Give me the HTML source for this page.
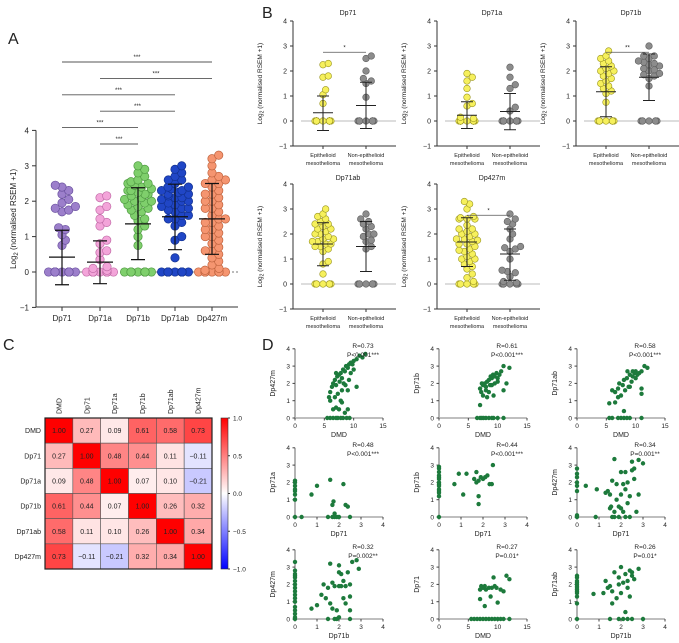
<!DOCTYPE html>
<html><head><meta charset="utf-8"><style>
html,body{margin:0;padding:0;background:#fff;}
svg{display:block;font-family:"Liberation Sans",sans-serif;}
</style></head><body>
<svg id="fig" width="679" height="643" viewBox="0 0 679 643"></svg>
<script>
// ---------- Panel A data ----------
const aCats=['Dp71','Dp71a','Dp71b','Dp71ab','Dp427m'];
const aDp71=[0,0,0,0,0,0,0,0,0,0,0,0,0,0,0,0,0,0,0,0,0,0,0,0,0,0,0,0,0.75,0.9,1.05,1.2,1.25,1.7,1.75,1.8,1.85,1.95,2.05,2.2,2.3,2.4,2.45];
const aDp71a=[0,0,0,0,0,0,0,0,0,0,0,0,0,0,0,0,0,0,0,0,0,0,0,0.05,0.1,0.15,0.35,0.55,0.6,0.8,0.9,1.3,1.4,1.5,1.75,1.85,2.1,2.15];
const aDp71b=[0,0,0,0,0,0,0,0,0,0,0,0,0.75,1.0,1.2,1.3,1.45,1.5,1.6,1.7,1.8,1.85,1.9,2.0,2.05,2.1,2.15,2.2,2.25,2.3,2.35,2.4,2.45,2.5,2.55,2.6,2.7,2.8,2.9,3.0,1.95,2.2,2.3,2.5,1.75,2.0];
const aDp71ab=[0,0,0,0,0,0,0,0,0,0,0,0,0,0,0,0.4,0.9,1.0,1.3,1.4,1.5,1.6,1.7,1.75,1.8,1.9,1.95,2.0,2.05,2.1,2.15,2.2,2.25,2.3,2.35,2.4,2.5,2.6,2.7,2.8,2.9,3.0,1.85,2.0,2.1,2.2,2.3,1.6,1.5,1.8,2.4,2.6];
const aDp427m=[0,0,0,0,0,0,0,0,0,0,0.05,0.1,0.2,0.3,0.5,0.6,0.7,0.8,0.9,1.0,1.1,1.2,1.3,1.4,1.5,1.6,1.7,1.8,1.9,2.0,2.1,2.2,2.3,2.4,2.5,2.6,2.7,2.8,3.0,3.2,3.3,1.0,1.5,2.0,2.5,0.4,1.2,1.8,2.2,2.6,0.6,1.4];
const aMeans=[0.42,0.28,1.36,1.56,1.5];
const aSdHi=[1.18,0.88,2.38,2.48,2.5];
const aSdLo=[-0.36,-0.33,0.35,0.63,0.5];
const aSig=[[0,4],[1,4],[0,3],[1,3],[0,2],[1,2]];
const aSigLabels=['***','***','***','***','***','***'];

// ---------- Panel B data ----------
const bTitles=['Dp71','Dp71a','Dp71b','Dp71ab','Dp427m'];
const bEpi=[
 [0,0,0,0,0,0,0,0,0,0,0,0,0,0,0,0,0,0,0,0,0.7,1.05,1.25,1.75,1.8,2.25,2.3],
 [0,0,0,0,0,0,0,0,0,0,0,0,0,0,0,0,0,0,0,0.1,0.15,0.6,0.7,0.95,1.3,1.6,1.75,1.9],
 [0,0,0,0,0,0,0,0,0,0,0,0,0.75,1.1,1.2,1.3,1.4,1.5,1.6,1.8,1.9,2.0,2.1,2.2,2.3,2.4,2.5,2.6,2.8,2.0,1.7],
 [0,0,0,0,0,0,0,0,0.4,0.8,0.9,1.3,1.4,1.5,1.6,1.7,1.8,1.9,2.0,2.1,2.2,2.3,2.4,2.5,2.6,2.7,2.8,3.0,1.6,1.8,2.0,2.2,1.5,2.4,1.7],
 [0,0,0,0,0,0.1,0.25,0.4,0.6,0.7,0.8,1.0,1.1,1.2,1.35,1.5,1.6,1.7,1.8,1.9,2.0,2.1,2.2,2.35,2.6,2.65,2.7,3.0,3.2,3.3,1.0,1.4,1.8,2.2,2.6,0.9,1.6,2.0,2.6,1.3,1.75]
];
const bNon=[
 [0,0,0,0,0,0,0,0,0,0,0.95,1.5,1.6,1.7,2.0,2.5,2.6],
 [0,0,0,0,0,0,0,0,0,0,0,0,0.4,0.55,1.3,1.45,1.75,2.15],
 [0,0,0,0,0,0,0,1.4,1.7,1.8,1.9,2.0,2.1,2.2,2.3,2.4,2.5,2.6,3.0,1.85,2.05,2.25,2.35,2.6],
 [0,0,0,0,0,0,0,0,1.4,1.5,1.7,1.9,2.0,2.2,2.3,2.4,2.6,2.8,2.0,1.75,2.5],
 [0,0,0,0,0,0,0,0.05,0.1,0.3,0.45,0.55,1.0,1.3,1.45,1.5,1.8,2.0,2.2,2.4,2.5,2.6,2.8,0.5,1.4]
];
const bMeanE=[0.33,0.23,1.17,1.6,1.68];
const bHiE=[1.0,0.77,2.17,2.45,2.65];
const bLoE=[-0.38,-0.3,0.17,0.73,0.7];
const bMeanN=[0.62,0.38,1.75,1.5,1.2];
const bHiN=[1.55,1.1,2.68,2.5,2.2];
const bLoN=[-0.3,-0.35,0.82,0.5,0.15];
const bSigLabels=['*','','**','','*'];

// ---------- Panel C data ----------
const cLabels=['DMD','Dp71','Dp71a','Dp71b','Dp71ab','Dp427m'];
const cMatrix=[
 [1.00,0.27,0.09,0.61,0.58,0.73],
 [0.27,1.00,0.48,0.44,0.11,-0.11],
 [0.09,0.48,1.00,0.07,0.10,-0.21],
 [0.61,0.44,0.07,1.00,0.26,0.32],
 [0.58,0.11,0.10,0.26,1.00,0.34],
 [0.73,-0.11,-0.21,0.32,0.34,1.00]];
const cbTicks=[1.0,0.5,0.0,-0.5,-1.0];
const cbTickLabels=['1.0','0.5','0.0','\u22120.5','\u22121.0'];

// ---------- Panel D data ----------
const dXLabels=['DMD','DMD','DMD','Dp71','Dp71','Dp71','Dp71b','DMD','Dp71b'];
const dYLabels=['Dp427m','Dp71b','Dp71ab','Dp71a','Dp71b','Dp427m','Dp427m','Dp71','Dp71ab'];
const dXMax=[15,15,15,4,4,4,4,15,4];
const dR=['R=0.73','R=0.61','R=0.58','R=0.48','R=0.44','R=0.34','R=0.32','R=0.27','R=0.26'];
const dP=['P<0.001***','P<0.001***','P<0.001***','P<0.001***','P<0.001***','P=0.001**','P=0.002**','P=0.01*','P=0.01*'];
const d1x=[5.5,6,6.5,7,7.3,7.8,8.2,8.8,9.3,6,6.3,6.5,6.8,7,7.2,7.5,7.6,7.8,8,8.2,8.5,8.7,9,9.2,9.5,9.8,10,10.5,11,11.5,12,6.5,7,7.5,8,8.5,9,6,6.8,7.3,8,8.6,9.2,10.5,5.8,7,9.5,10,8.3,7.8,9];
const d1y=[0,0,0,0,0,0,0,0,0,1.5,1.8,2,2.2,1.9,2.4,2.5,2.1,2.6,2.3,2.8,2.7,3,2.9,3.1,3.2,3.1,3.3,3.4,3.6,3.5,3.7,0.5,0.6,0.5,0.9,0.3,0.5,1,1.2,1.4,1.6,1.9,2.2,1.8,1.2,2.6,2.6,2.8,2.0,1.0,1.6];
const d2x=[6.5,7,7.3,7.6,8,8.5,9,9.3,10,11,7,7.2,7.5,7.8,8,8.2,8.5,8.7,9,9.2,9.5,9.8,10,10.3,10.6,11,11.5,12,11,7,7.5,8,8.5,9,9.5,10,7.3,8.8,9.3,8.2];
const d2y=[0,0,0,0,0,0,0,0,0,0,1.7,1.5,1.9,2.0,1.8,2.1,2.2,1.9,2.3,2.5,2.4,2.6,2.3,2.5,2.7,3.0,2.0,2.9,1.6,0.75,1.3,1.6,1.5,1.9,2.0,2.1,2.0,2.4,1.3,1.2];
const d3x=[5.5,6,7,7.5,8,8.5,9,11,5.5,6.5,6,6.5,7,7.2,7.5,7.8,8,8.2,8.5,8.8,9,9.3,9.5,9.8,10,10.3,10.6,11,11.5,12,11,11,8,7,9,10,8.6,9.5];
const d3y=[0,0,0,0,0,0,0,0,0.85,0.9,1.6,1.5,1.7,2.0,1.3,1.9,2.2,1.6,2.3,1.8,2.5,2.1,2.4,2.6,2.7,2.5,2.6,2.7,3.0,2.9,1.4,1.7,0.4,1.2,1.8,2.3,2.7,2.7];
const d4x=[0,0,0,0,0,0,0,0,0.75,1.0,1.6,2.2,1.7,1.75,2.3,2.4,1.8,0.3,1.5,1.7,1.8,1.9,2.0,2.5];
const d4y=[0,1,1.3,1.5,1.6,1.8,2,2.1,1.3,1.8,2.15,1.9,0.7,0.9,0.7,0.6,0.2,0,0,0,0,0,0,0];
const d5x=[0,0,0,0,0,0,0,0,0,0,0,0,0,0,0.7,0.9,1.1,1.25,1.6,1.7,1.8,1.9,2.0,2.1,1.8,1.8,1.7,2.3,2.4,2.45,2.2];
const d5y=[1.2,1.4,1.6,1.8,2.0,2.2,2.4,2.6,2.8,2.9,1.5,1.9,2.3,0,1.9,2.5,1.3,2.5,2.2,2.6,2.1,2.3,2.2,2.3,1.2,0.75,2.0,1.9,1.9,3.0,2.4];
const d6x=[0,0,0,0,0,0,0,0,0.4,0.9,0.85,1.3,1.4,1.5,1.5,1.6,1.7,1.7,1.8,1.8,1.9,2.0,2.0,2.1,2.1,2.2,2.2,2.3,2.3,2.4,2.5,2.5,2.6,2.7,2.8,2.8,3.0,1.6,1.7,1.9,2.2,2.4,1.55,2.0,2.6];
const d6y=[0,0.1,1.5,1.8,2,2.3,2.5,2.8,1.8,1.6,0,1.4,1.5,1.3,0.5,2.1,3.35,0.3,1.9,1.0,0.6,2.6,1.3,1.9,0.3,2.6,1.6,0.8,2.0,1.2,2.7,3.2,2.8,0.3,3.3,1.3,3.1,0,0,0,0,0,0.6,0.5,2.2];
const d7x=[0,0,0,0,0,0,0,0,0,0,0,0,0,0,0,0,0,0.75,1.5,1.3,1.6,1.7,1.8,2.0,2.0,2.1,2.2,2.3,2.4,2.5,2.5,2.6,2.8,2.9,1.4,1.6,1.7,1.9,2.0,2.2,2.5,2.3,1.2,1.8,1.9,2.0,2.5,1.5,1.0,2.1];
const d7y=[0,0.1,0.3,0.5,0.7,1.0,1.2,1.4,1.8,2.0,2.2,2.4,2.6,2.8,3.3,1.6,2.5,0.6,1.8,2.0,3.2,2.1,1.9,2.7,3.1,2.6,2.2,1.9,2.7,2.0,1.3,3.3,3.4,2.9,1.2,0.9,0.6,0.5,1.9,1.2,0.5,0.9,1.4,0,0,0.1,0,0,0.8,1.9];
const d8x=[5.5,6,6.5,7,7.5,8,8.5,9,9.5,10,10.5,11,12,7,7.2,7,7.5,7.8,8,8.5,8.8,9,9.3,9.8,10,10.5,11,11.5,12,7.8,9.5];
const d8y=[0,0,0,0,0,0,0,0,0,0,0,0,0,1.7,1.9,1.15,1.8,1.9,1.7,1.8,1.3,1.8,2.4,1.8,0.95,1.7,1.6,2.5,2.3,0.75,1.9];
const d9x=[0,0,0,0,0,0,0,0,0,0,0,0,0,0.75,1.2,1.3,1.4,1.5,1.6,1.6,1.7,1.8,1.9,2.0,2.0,2.1,2.2,2.2,2.3,2.4,2.4,2.5,2.5,2.6,2.8,1.9,2.3,1.5,1.9,2.1,2.3,2.5,3.0];
const d9y=[0,0.9,1.3,1.5,1.7,1.9,2.0,2.2,2.4,2.5,1.6,1.8,2.1,1.45,1.5,2.2,1.8,1.9,0.9,1.6,2.7,1.2,2.4,3.0,1.5,2.1,2.6,0.4,2.2,2.8,1.3,2.5,2.7,2.3,2.9,2.0,1.8,0,0,0,0,0,0];
const dXs=[d1x,d2x,d3x,d4x,d5x,d6x,d7x,d8x,d9x];
const dYs=[d1y,d2y,d3y,d4y,d5y,d6y,d7y,d8y,d9y];

// ---------- helpers ----------
const NS='http://www.w3.org/2000/svg';
const svg=document.getElementById('fig');
function mk(tag,attrs,parent){const e=document.createElementNS(NS,tag);for(const k in attrs)e.setAttribute(k,attrs[k]);(parent||svg).appendChild(e);return e;}
function txt(x,y,s,size,anchor,parent,extra){const e=mk('text',Object.assign({x:x,y:y,'font-size':size,'text-anchor':anchor||'middle',fill:'#222'},extra||{}),parent);e.textContent=s;return e;}
function swarm(vals,cx,yf,r,maxHalf,dens){
  const pts=[];const sorted=vals.slice().sort((a,b)=>a-b);const d=2*r*dens;
  sorted.forEach((v,j)=>{const y=yf(v);let placed=false;
    for(let k=0;k<60&&!placed;k++){const off=(k%2?1:-1)*Math.ceil(k/2)*r*0.8;
      if(Math.abs(off)>maxHalf)continue;
      const x=cx+off;if(pts.every(p=>Math.hypot(p[0]-x,p[1]-y)>=d)){pts.push([x,y]);placed=true;}}
    if(!placed){pts.push([cx+(j%2?1:-1)*maxHalf*0.5,y]);}
  });return pts;}

// ---------- Panel A ----------
const gA=mk('g',{});


const lblA=txt(8,44,'A',16,'start',gA);


const aY=v=>272-v*35.4;
const aX=[62,100,138,175,212];
const aAx=mk('path',{d:'M36,'+aY(4)+' V307 H238',stroke:'#333','stroke-width':1,fill:'none'},gA);


[-1,0,1,2,3,4].forEach(t=>{mk('line',{x1:32,x2:36,y1:aY(t),y2:aY(t),stroke:'#333'},gA);
  const tl=txt(29,aY(t)+3,t<0?'\u22121':String(t),8,'end',gA);
  
  });
const aYT=txt(0,0,'',8,'middle',gA,{transform:'translate(16,'+aY(1.5)+') rotate(-90)'});
aYT.innerHTML='Log<tspan font-size="6" dy="2">2</tspan><tspan dy="-2"> (normalised RSEM +1)</tspan>';


mk('line',{x1:44,x2:238,y1:aY(0),y2:aY(0),stroke:'#777','stroke-dasharray':'2,2'},gA);
const aData=[aDp71,aDp71a,aDp71b,aDp71ab,aDp427m];
const aFill=['#9c7fcb','#f3a4d9','#7fcf6c','#2046c6','#f59570'];
const aStroke=['#6c53a0','#c26ca8','#4f9a42','#12318f','#c0643f'];
aData.forEach((vals,i)=>{
  const g=mk('g',{},gA);
  
  
  swarm(vals,aX[i],aY,4.2,14,0.72).forEach(p=>{const c=mk('circle',{cx:p[0],cy:p[1],r:4.2,fill:aFill[i],stroke:aStroke[i],'stroke-width':0.7},g);
    
    });
  const eb=mk('path',{d:'M'+aX[i]+','+aY(aSdLo[i])+'V'+aY(aSdHi[i])+'M'+(aX[i]-7)+','+aY(aSdHi[i])+'h14M'+(aX[i]-7)+','+aY(aSdLo[i])+'h14M'+(aX[i]-13)+','+aY(aMeans[i])+'h26',stroke:'#111','stroke-width':1.2,fill:'none'},g);
  
  
  mk('line',{x1:aX[i],x2:aX[i],y1:307,y2:311,stroke:'#333'},gA);
  const cl=txt(aX[i],321,aCats[i],8,'middle',gA);
  
  
});
aSig.forEach((s,k)=>{const y=62+k*16.4;
  const l=mk('line',{x1:aX[s[0]],x2:aX[s[1]],y1:y,y2:y,stroke:'#555','stroke-width':0.9},gA);
  
  
  const st=txt((aX[s[0]]+aX[s[1]])/2,y-3,aSigLabels[k],6,'middle',gA);
  
  });

// ---------- Panel B ----------
const lblB=txt(262,18,'B',16,'start');


const bOx=[293,437,576,293,437];
const bY0=[121,121,121,284,284];
bTitles.forEach((t,i)=>{
  const g=mk('g',{});
  
  
  const ox=bOx[i],y0=bY0[i];const Y=v=>y0-v*25;const c1=ox+30,c2=ox+73;
  mk('path',{d:'M'+ox+','+Y(4)+'V'+Y(-1)+'H'+(ox+103),stroke:'#333',fill:'none'},g);
  [-1,0,1,2,3,4].forEach(v=>{mk('line',{x1:ox-3,x2:ox,y1:Y(v),y2:Y(v),stroke:'#333'},g);
    const tl=txt(ox-6,Y(v)+2.5,v<0?'\u22121':String(v),7,'end',g);
    
    });
  mk('line',{x1:ox+8,x2:ox+103,y1:Y(0),y2:Y(0),stroke:'#bbb'},g);
  const tt=txt(ox+55,Y(4)-6+ (i>2?2:0),t,7,'middle',g);
  
  
  const yl=txt(0,0,'',6.5,'middle',g,{transform:'translate('+(ox-31)+','+Y(1.5)+') rotate(-90)'});
  yl.innerHTML='Log<tspan font-size="5" dy="1.5">2</tspan><tspan dy="-1.5"> (normalised RSEM +1)</tspan>';
  
  
  [[c1,'Epithelioid'],[c2,'Non-epithelioid']].forEach(c=>{mk('line',{x1:c[0],x2:c[0],y1:Y(-1),y2:Y(-1)+3,stroke:'#333'},g);
    const a=txt(c[0],Y(-1)+11,c[1],5.5,'middle',g);
    
    
    const b=txt(c[0],Y(-1)+19,'mesothelioma',5.5,'middle',g);
    
    });
  [[bEpi[i],c1,'#f6f05c','#9a9520',bMeanE[i],bHiE[i],bLoE[i]],[bNon[i],c2,'#8c8c8c','#5e5e5e',bMeanN[i],bHiN[i],bLoN[i]]].forEach(s=>{
    swarm(s[0],s[1],Y,3.3,13,0.8).forEach(p=>{const c=mk('circle',{cx:p[0],cy:p[1],r:3.3,fill:s[2],stroke:s[3],'stroke-width':0.6},g);
      
      });
    const eb=mk('path',{d:'M'+s[1]+','+Y(s[6])+'V'+Y(s[5])+'M'+(s[1]-6)+','+Y(s[5])+'h12M'+(s[1]-6)+','+Y(s[6])+'h12M'+(s[1]-10)+','+Y(s[4])+'h20',stroke:'#222','stroke-width':1,fill:'none'},g);
    
    });
  if(bSigLabels[i]){const sl=mk('line',{x1:c1,x2:c2,y1:Y(2.75),y2:Y(2.75),stroke:'#555','stroke-width':0.8},g);
    
    
    const st=txt((c1+c2)/2,Y(2.75)-3,bSigLabels[i],6,'middle',g);
    
    }
});

// ---------- Panel C ----------
const gC=mk('g',{});


const lblC=txt(3,350,'C',16,'start',gC);


const hx0=45,hy0=418,cw=(212-45)/6,ch=(569-418)/6;
function col(v){if(v>=0){const k=Math.round(255*(1-v));return 'rgb(255,'+k+','+k+')';}const k=Math.round(255*(1+v));return 'rgb('+k+','+k+',255)';}
cMatrix.forEach((row,r)=>{row.forEach((v,c)=>{
  const cell=mk('rect',{x:hx0+c*cw,y:hy0+r*ch,width:cw,height:ch,fill:col(v),stroke:'#555','stroke-width':0.6},gC);
  
  
  const vt=txt(hx0+c*cw+cw/2,hy0+r*ch+ch/2+2.5,v<0?'\u2212'+Math.abs(v).toFixed(2):v.toFixed(2),7,'middle',gC);
  
  });});
mk('rect',{x:hx0,y:hy0,width:cw*6,height:ch*6,fill:'none',stroke:'#222','stroke-width':1.2},gC);
cLabels.forEach((l,i)=>{
  const rl=txt(41,hy0+i*ch+ch/2+2.5,l,7,'end',gC);
  
  
  const cl=txt(0,0,l,7,'start',gC,{transform:'translate('+(hx0+i*cw+cw/2+2.5)+',414) rotate(-90)'});
  
  });
const defs=mk('defs',{});
const lg=mk('linearGradient',{id:'cbg',x1:0,y1:0,x2:0,y2:1},defs);
mk('stop',{offset:'0','stop-color':'#ff0000'},lg);mk('stop',{offset:'0.5','stop-color':'#ffffff'},lg);mk('stop',{offset:'1','stop-color':'#0000ff'},lg);
const cb=mk('rect',{x:221,y:hy0,width:7,height:151,fill:'url(#cbg)',stroke:'#333','stroke-width':0.6},gC);


cbTicks.forEach((t,i)=>{const y=hy0+(1-t)/2*151;mk('line',{x1:228,x2:230,y1:y,y2:y,stroke:'#333'},gC);
  const tl=txt(233,y+2.5,cbTickLabels[i],6.5,'start',gC);
  
  });

// ---------- Panel D ----------
const lblD=txt(262,350,'D',16,'start');


const dAx=[295,439,577],dRow0=[418,517,619];
dXs.forEach((xs,i)=>{
  const g=mk('g',{});
  
  
  const ox=dAx[i%3],y0=dRow0[Math.floor(i/3)],W=88,U=17.3;
  const X=v=>ox+v/dXMax[i]*W,Y=v=>y0-v*U;
  mk('path',{d:'M'+ox+','+Y(4)+'V'+y0+'H'+(ox+W),stroke:'#444',fill:'none','stroke-width':0.8},g);
  mk('line',{x1:ox,x2:ox+W,y1:y0,y2:y0,stroke:'#aaa','stroke-width':1.4},g);
  [0,1,2,3,4].forEach(v=>{mk('line',{x1:ox-2.5,x2:ox,y1:Y(v),y2:Y(v),stroke:'#444'},g);
    const tl=txt(ox-5,Y(v)+2.3,String(v),6.5,'end',g);
    
    });
  const xt=dXMax[i]===15?[0,5,10,15]:[0,1,2,3,4];
  xt.forEach(v=>{mk('line',{x1:X(v),x2:X(v),y1:y0,y2:y0+2.5,stroke:'#444'},g);
    const tl=txt(X(v),y0+10,String(v),6.5,'middle',g);
    
    });
  const xl=txt(ox+W/2,y0+19,dXLabels[i],7,'middle',g);
  
  
  const yl=txt(0,0,dYLabels[i],7,'middle',g,{transform:'translate('+(ox-20)+','+Y(2)+') rotate(-90)'});
  
  
  xs.forEach((xv,k)=>{const c=mk('circle',{cx:X(xv),cy:Y(dYs[i][k]),r:2.2,fill:'#1d7a3c'},g);
    
    });
  const rt=txt(ox+68,Y(4)-1,dR[i],6.5,'middle',g);
  
  
  const pt=txt(ox+68,Y(4)+8,dP[i],6.5,'middle',g);
  
  
});
</script>
</body></html>
